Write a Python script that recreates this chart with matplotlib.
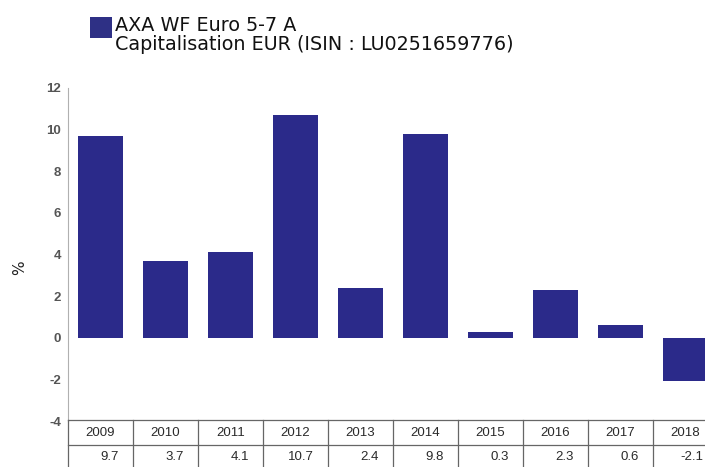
import matplotlib
matplotlib.use("Agg")
import matplotlib.pyplot as plt
from matplotlib.patches import Rectangle

years = ["2009", "2010", "2011", "2012", "2013", "2014", "2015", "2016", "2017", "2018"]
values = [9.7, 3.7, 4.1, 10.7, 2.4, 9.8, 0.3, 2.3, 0.6, -2.1]
value_labels = ["9.7", "3.7", "4.1", "10.7", "2.4", "9.8", "0.3", "2.3", "0.6", "-2.1"]
yticks = [-4, -2, 0, 2, 4, 6, 8, 10, 12]
legend_lines = ["AXA WF Euro 5-7 A", "Capitalisation EUR (ISIN : LU0251659776)"]

W, H = 705, 467
fig = plt.figure(figsize=(W / 100, H / 100), dpi=100)
bar_color = "#2b2a8a"

def fx(px):
    return px / W

def fy(py):
    return 1 - py / H

left_px, right_px = 68, 718
top_px, bottom_px = 88, 421
ax = fig.add_axes([fx(left_px), fy(bottom_px), fx(right_px - left_px), fy(top_px) - fy(bottom_px)])
x = list(range(len(years)))
ax.bar(x, values, width=0.68, color=bar_color, edgecolor="none")
ax.set_xlim(-0.5, len(years) - 0.5)
ax.set_ylim(-4, 12)
ax.set_yticks(yticks)
ax.set_yticklabels([str(t) for t in yticks], fontfamily="Liberation Sans", fontsize=9.5,
                   fontweight="bold", color="#555555")
ax.tick_params(axis="y", length=0, pad=5)
ax.set_xticks([])
for s in ["top", "right", "bottom"]:
    ax.spines[s].set_visible(False)
ax.spines["left"].set_color("#b0b0b0")
ax.spines["left"].set_linewidth(0.8)
ax.patch.set_alpha(0)

fig.text(fx(20), fy(268), "%", rotation=90, ha="center", va="center", fontsize=11, color="#222222")

# table
tax = fig.add_axes([fx(left_px), 0, fx(right_px - left_px), fy(bottom_px)])
tax.set_xlim(-0.5, len(years) - 0.5)
tax.set_ylim(H, bottom_px)
tax.axis("off")
row_lines = [420, 445, 470]
for yy in row_lines:
    tax.plot([-0.5, len(years) - 0.5], [yy, yy], color="#666666", lw=0.9, clip_on=False)
for i in range(len(years) + 1):
    tax.plot([i - 0.5, i - 0.5], [420, 470], color="#666666", lw=0.9, clip_on=False)
for i, (yr, lab) in enumerate(zip(years, value_labels)):
    tax.text(i, 433, yr, ha="center", va="center", fontsize=9.5, fontfamily="Liberation Sans",
             color="#2a2a2a")
    tax.text(i + 0.28, 457, lab, ha="right", va="center", fontsize=9.5, fontfamily="Liberation Sans",
             color="#2a2a2a")

# legend
fig.patches.append(Rectangle((fx(90), fy(38)), fx(22), fy(17) - fy(38), transform=fig.transFigure,
                             facecolor="#2e3085", edgecolor="none"))
for line, base in zip(legend_lines, [31, 50]):
    fig.text(fx(115), fy(base), line, ha="left", va="baseline", fontsize=13.8, color="#111111",
             fontfamily="DejaVu Sans")

fig.savefig("out.png", dpi=100)
